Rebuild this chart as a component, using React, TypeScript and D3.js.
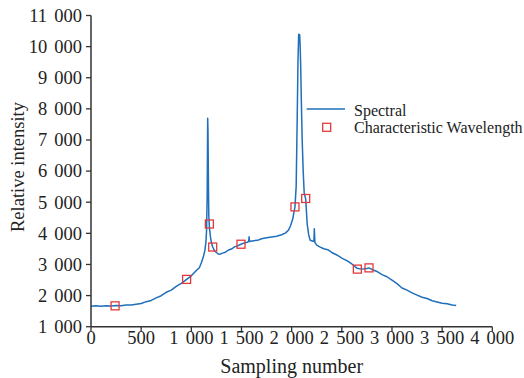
import React from "react";
import * as d3 from "d3";

const sampleIdx: number[] = [
  0, 50, 100, 150, 200, 250, 300, 350, 400, 450, 500, 550, 600, 650, 700, 750, 800, 850, 900, 950,
  1000, 1050, 1080, 1100, 1120, 1135, 1145, 1152, 1158, 1163, 1166, 1170, 1174, 1180, 1190, 1200,
  1213, 1230, 1250, 1270, 1290, 1310, 1340, 1370, 1400, 1430, 1460, 1495, 1530, 1560, 1572, 1576,
  1580, 1620, 1660, 1700, 1750, 1800, 1850, 1900, 1940, 1970, 1990, 2010, 2033, 2045, 2055, 2063,
  2070, 2075, 2080, 2085, 2090, 2095, 2105, 2115, 2125, 2140, 2155, 2170, 2185, 2200, 2215, 2222,
  2226, 2232, 2250, 2280, 2320, 2360, 2400, 2450, 2500, 2550, 2600, 2650, 2700, 2750, 2771, 2800,
  2850, 2900, 2950, 3000, 3050, 3100, 3150, 3200, 3250, 3300, 3350, 3400, 3450, 3500, 3550, 3600, 3640,
];
const spectralValues: number[] = [
  1660, 1672, 1655, 1675, 1662, 1680, 1676, 1695, 1700, 1725, 1748, 1805, 1845, 1925, 1995, 2105, 2175, 2295, 2395, 2515,
  2635, 2805, 2895, 3055, 3245, 3455, 3700, 4100, 5200, 7700, 7300, 5800, 4600, 4200, 3900, 3700,
  3560, 3450, 3385, 3335, 3330, 3365, 3395, 3465, 3495, 3565, 3595, 3650, 3695, 3715, 3745, 3890,
  3735, 3765, 3775, 3825, 3855, 3885, 3905, 3955, 4015, 4110, 4250, 4450, 4850, 5500, 7600, 9500,
  10400, 10250, 10380, 10000, 9400, 8500, 7000, 6000, 5300, 5100, 4300, 3950, 3780, 3760, 3740, 3760,
  4150, 3700, 3620, 3565, 3505, 3475, 3385, 3305, 3205, 3125, 3015, 2880, 2850, 2870, 2890, 2840,
  2775, 2675, 2605, 2495, 2385, 2245, 2175, 2085, 2015, 1945, 1905, 1835, 1795, 1755, 1735, 1700, 1685,
];

const markerIdx: number[] = [240, 953, 1180, 1213, 1495, 2033, 2140, 2655, 2771];
const markerValues: number[] = [1670, 2520, 4300, 3560, 3650, 4850, 5120, 2850, 2890];

const xTicks: number[] = [0, 500, 1000, 1500, 2000, 2500, 3000, 3500, 4000];
const yTicks: number[] = [1000, 2000, 3000, 4000, 5000, 6000, 7000, 8000, 9000, 10000, 11000];

const fmt = (v: number) => {
  const s = String(v);
  if (s.length > 3) return s.slice(0, s.length - 3) + " " + s.slice(s.length - 3);
  return s;
};

const FONT = "Liberation Serif, DejaVu Serif, Times New Roman, serif";

export default function App() {
  const W = 524;
  const H = 378;
  const x = d3.scaleLinear().domain([0, 4000]).range([91, 492.3]);
  const y = d3.scaleLinear().domain([1000, 11000]).range([326.7, 15.5]);
  const pts: [number, number][] = sampleIdx.map((s, i) => [s, spectralValues[i]]);
  const line = d3
    .line<[number, number]>()
    .x((d) => x(d[0]))
    .y((d) => y(d[1]));
  const axisColor = "#333";
  const blue = "#1f6fba";
  const red = "#e23a3a";
  const ms = 8;
  const ts = (extra: React.CSSProperties = {}): React.CSSProperties => ({ fontFamily: FONT, ...extra });
  return (
    <svg width={W} height={H} style={{ position: "absolute", left: 0, top: 0, background: "#fff" }}>
      <rect x={0} y={0} width={W} height={H} fill="#fff" />
      <path d={line(pts) || ""} fill="none" stroke={blue} strokeWidth={1.5} strokeLinejoin="round" />
      {markerIdx.map((s, i) => (
        <rect
          key={i}
          x={x(s) - ms / 2}
          y={y(markerValues[i]) - ms / 2}
          width={ms}
          height={ms}
          fill="none"
          stroke={red}
          strokeWidth={1.3}
        />
      ))}
      <line x1={x(0)} x2={x(4000)} y1={y(1000)} y2={y(1000)} stroke={axisColor} strokeWidth={1.5} />
      <line x1={x(0)} x2={x(0)} y1={y(1000)} y2={y(11000)} stroke={axisColor} strokeWidth={1.5} />
      {xTicks.map((t) => (
        <g key={"x" + t}>
          <line x1={x(t)} x2={x(t)} y1={y(1000)} y2={y(1000) + 5} stroke={axisColor} strokeWidth={1.3} />
          <text x={x(t)} y={344.3} textAnchor="middle" fontSize={18.5} style={ts({ wordSpacing: "2.5px" })} fill="#222">
            {fmt(t)}
          </text>
        </g>
      ))}
      {yTicks.map((t) => (
        <g key={"y" + t}>
          <line x1={x(0) - 5} x2={x(0)} y1={y(t)} y2={y(t)} stroke={axisColor} strokeWidth={1.3} />
          <text x={82} y={y(t) + 6.3} textAnchor="end" fontSize={18.5} style={ts({ wordSpacing: "2.5px" })} fill="#222">
            {fmt(t)}
          </text>
        </g>
      ))}
      <text x={291.7} y={373} textAnchor="middle" fontSize={20} style={ts()} fill="#222">
        Sampling number
      </text>
      <text transform={`translate(23.5,167) rotate(-90)`} textAnchor="middle" fontSize={18.5} style={ts()} fill="#222">
        Relative intensity
      </text>
      <line x1={306.7} x2={345} y1={109} y2={109} stroke={blue} strokeWidth={1.5} />
      <text x={354} y={116} fontSize={16} style={ts()} fill="#222">
        Spectral
      </text>
      <rect x={326.7 - ms / 2} y={127.3 - ms / 2} width={ms} height={ms} fill="none" stroke={red} strokeWidth={1.3} />
      <text x={354} y={133} fontSize={16} style={ts()} fill="#222">
        Characteristic Wavelength
      </text>
    </svg>
  );
}
